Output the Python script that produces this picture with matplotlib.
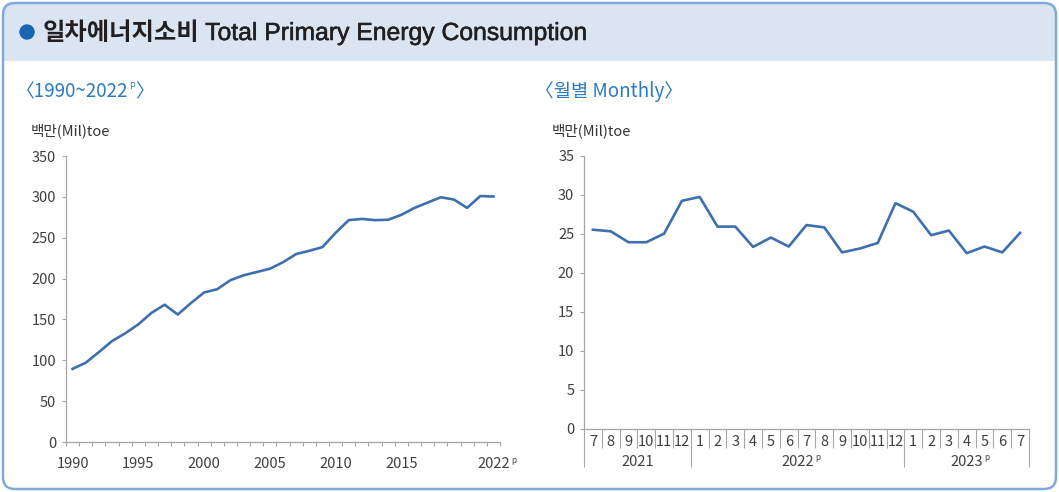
import matplotlib.pyplot as plt
import matplotlib.patches as mpatches
import matplotlib.patheffects as pe
import numpy as np

plt.rcParams['font.family'] = ['Noto Sans CJK KR', 'DejaVu Sans']

# annual total primary energy consumption (Mil toe)
years = list(range(1990, 2023))
annual = [89.5, 97, 110, 123.5, 133, 144, 158, 168, 156, 170,
          183, 187, 198, 204, 208, 212, 220, 230, 234, 238.5,
          256, 271.5, 273, 271.5, 272, 278, 286.5, 293, 299.5, 296.7,
          286.5, 301, 300.4]
year_ticks = [1990, 1995, 2000, 2005, 2010, 2015, 2022]

# monthly, 2021.7 ~ 2023.7
months = [7, 8, 9, 10, 11, 12,
          1, 2, 3, 4, 5, 6, 7, 8, 9, 10, 11, 12,
          1, 2, 3, 4, 5, 6, 7]
monthly = [25.5, 25.3, 23.9, 23.9, 25.0, 29.2,
           29.7, 25.9, 25.9, 23.3, 24.5, 23.35, 26.1, 25.8, 22.6, 23.1, 23.8, 28.9,
           27.8, 24.8, 25.4, 22.5, 23.35, 22.6, 25.1]
groups = ['2021', '2022', '2023']
group_sizes = [6, 12, 7]
group_prelim = [False, True, True]

W, H = 1059, 492
LINE = '#3f70ae'
SPINE = '#a6a6a6'
TXT = '#404040'
BLUE = '#2b7bc0'
DARK = '#231f20'

fig = plt.figure(figsize=(W / 100, H / 100), dpi=100)
bg = fig.add_axes([0, 0, 1, 1])
bg.set_xlim(0, W)
bg.set_ylim(H, 0)
bg.axis('off')

# frame + header band
frame = mpatches.FancyBboxPatch((3, 3), W - 6, H - 6,
                                boxstyle='round,pad=0,rounding_size=12',
                                facecolor='white', edgecolor='none')
bg.add_patch(frame)
band = mpatches.Rectangle((0, 0), W, 61, facecolor='#dae5f1', edgecolor='none')
bg.add_patch(band)
band.set_clip_path(frame)
bg.add_patch(mpatches.FancyBboxPatch((3, 3), W - 6, H - 6,
                                     boxstyle='round,pad=0,rounding_size=12',
                                     facecolor='none', edgecolor='#7faad6', lw=1.8))

bg.add_patch(mpatches.Circle((27, 32), 7, color='#1767b0'))
kt = bg.text(43, 33, '일차에너지소비', fontsize=17.5, fontweight='bold',
             color=DARK, va='center', ha='left')
bg.annotate('Total Primary Energy Consumption', xy=(1, 0.5), xycoords=kt,
            xytext=(4, 0), textcoords='offset points', fontsize=17.8,
            family=['Liberation Sans', 'DejaVu Sans'], color=DARK,
            va='center', ha='left',
            path_effects=[pe.withStroke(linewidth=0.4, foreground=DARK)])

st = bg.text(16, 92, '〈1990~2022', fontsize=13.5, color=BLUE, va='center',
             ha='left', fontweight='light')
sp = bg.annotate('P', xy=(1, 0.78), xycoords=st, xytext=(0.5, 0),
                 textcoords='offset points', fontsize=6.5, color=BLUE,
                 va='center', ha='left', fontweight='light')
bg.annotate('〉', xy=(1, 0.5), xycoords=(sp, st), xytext=(0, 0),
            textcoords='offset points', fontsize=13.5, color=BLUE,
            va='center', ha='left', fontweight='light')
bg.text(535, 92, '〈월별 Monthly〉', fontsize=13.5, color=BLUE, va='center',
        ha='left', fontweight='light')

bg.text(31, 131, '백만(Mil)toe', fontsize=10.5, color='#333333', va='center', ha='left')
bg.text(552, 131, '백만(Mil)toe', fontsize=10.5, color='#333333', va='center', ha='left')


def style(ax):
    for s in ['top', 'right']:
        ax.spines[s].set_visible(False)
    for s in ['left', 'bottom']:
        ax.spines[s].set_color(SPINE)
        ax.spines[s].set_linewidth(0.9)
    ax.tick_params(axis='y', direction='out', length=3, width=0.8, color=SPINE,
                   labelsize=10.5, labelcolor=TXT, pad=4)


# ---- left: annual
ax1 = fig.add_axes([66 / W, (H - 442) / H, 434 / W, 286 / H])
style(ax1)
x1 = np.arange(len(years))
ax1.plot(x1, annual, color=LINE, lw=1.9)
ax1.set_ylim(0, 350)
ax1.set_yticks(range(0, 351, 50))
ax1.set_xlim(-0.5, len(years) - 0.5)
ax1.set_xticks(np.arange(-0.5, len(years), 1))
ax1.set_xticklabels([])
ax1.tick_params(axis='x', which='major', direction='out', length=3, width=0.8, color=SPINE)
ax1.set_xticks([years.index(y) for y in year_ticks], minor=True)
ax1.set_xticklabels([str(y) for y in year_ticks], minor=True)
ax1.tick_params(axis='x', which='minor', length=0, labelsize=10.5, labelcolor=TXT, pad=11)
ax1.annotate('p', xy=(years.index(2022), 0), xycoords=('data', 'axes fraction'),
             xytext=(12.5, -13.5), textcoords='offset points', fontsize=6, color=TXT,
             va='center', ha='left')

# ---- right: monthly
ax2 = fig.add_axes([584 / W, (H - 429) / H, 445 / W, 273.5 / H])
style(ax2)
x2 = np.arange(len(months))
ax2.plot(x2, monthly, color=LINE, lw=1.9)
ax2.set_ylim(0, 35)
ax2.set_yticks(range(0, 36, 5))
ax2.set_xlim(-0.5, len(months) - 0.5)

bounds = np.cumsum([0] + group_sizes) - 0.5
ax2.set_xticks(bounds)
ax2.set_xticklabels([])
ax2.tick_params(axis='x', which='major', direction='out', length=27.5, width=0.8, color=SPINE)
inner = [b for b in np.arange(-0.5, len(months), 1) if b not in bounds]
ax2.set_xticks(inner, minor=True)
ax2.tick_params(axis='x', which='minor', direction='out', length=14, width=0.8, color=SPINE)

xt = ax2.get_xaxis_transform()
for i, m in enumerate(months):
    ax2.text(i, -13.5 / 273.5, str(m), transform=xt, fontsize=10.5, color=TXT,
             ha='center', va='center')
for g, lo, hi, p in zip(groups, bounds[:-1], bounds[1:], group_prelim):
    mid = (lo + hi) / 2
    ax2.text(mid, -32.5 / 273.5, g, transform=xt, fontsize=10.5, color=TXT,
             ha='center', va='center')
    if p:
        ax2.annotate('p', xy=(mid, -32.5 / 273.5), xycoords=xt, xytext=(12.5, 3),
                     textcoords='offset points', fontsize=6, color=TXT,
                     va='center', ha='left')

fig.savefig('out.png', dpi=100)
